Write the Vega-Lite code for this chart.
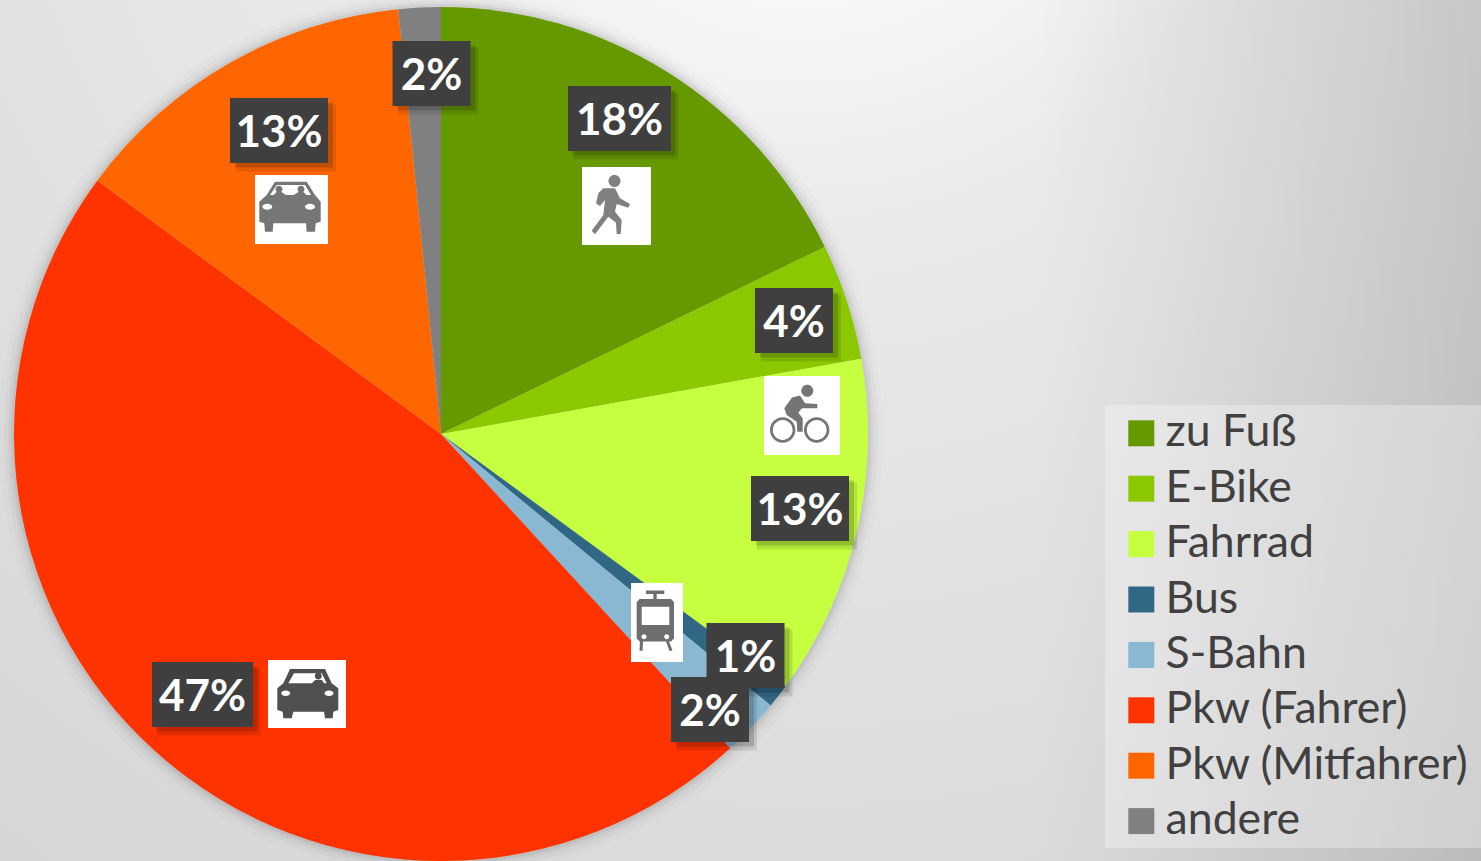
{
"$schema":"https://vega.github.io/schema/vega-lite/v6.json",
"width":1481,"height":861,"padding":0,"autosize":{"type":"none"},
"background":"#e0e0e0",
"config":{"view":{"stroke":null},"font":"Lato"},
"data":{"values":[
{"mode":"zu Fuß","share":17.8,"label":"18%","rank":1},
{"mode":"E-Bike","share":4.4,"label":"4%","rank":2},
{"mode":"Fahrrad","share":12.9,"label":"13%","rank":3},
{"mode":"Bus","share":0.9,"label":"1%","rank":4},
{"mode":"S-Bahn","share":2.2,"label":"2%","rank":5},
{"mode":"Pkw (Fahrer)","share":47.0,"label":"47%","rank":6},
{"mode":"Pkw (Mitfahrer)","share":13.3,"label":"13%","rank":7},
{"mode":"andere","share":1.6,"label":"2%","rank":8}
]},
"resolve":{"scale":{"x":"independent","y":"independent","shape":"independent","color":"independent"}},
"layer":[
{"data":{"values":[{"panel":"background"}]},"mark":{"type":"rect","color":{"gradient":"radial","x1":0.54,"y1":0.03,"r1":0,"x2":0.54,"y2":0.03,"r2":1.1,"stops":[{"offset":0,"color":"#ffffff"},{"offset":0.08,"color":"#ffffff"},{"offset":0.3,"color":"#eaeaea"},{"offset":0.5,"color":"#e2e2e2"},{"offset":1,"color":"#d0d0d0"}]}},"encoding":{}},
{"data":{"values":[{"panel":"edge"}]},"mark":{"type":"rect","color":{"gradient":"linear","x1":0,"y1":0,"x2":1,"y2":0,"stops":[{"offset":0,"color":"rgba(0,0,0,0)"},{"offset":0.7,"color":"rgba(0,0,0,0)"},{"offset":1,"color":"rgba(0,0,0,0.13)"}]}},"encoding":{}},
{"encoding":{
  "x":{"datum":441,"type":"quantitative","scale":{"domain":[0,1481],"range":[0,1481],"nice":false,"zero":false},"axis":null},
  "y":{"datum":434,"type":"quantitative","scale":{"domain":[0,861],"range":[0,861],"nice":false,"zero":false},"axis":null}
 },
 "layer":[
 {"data":{"values":[{"panel":"legend"}]},"mark":{"type":"rect","color":"#ffffff","opacity":0.3},
  "encoding":{
   "x":{"datum":1105,"type":"quantitative","scale":{"domain":[0,1481],"range":[0,1481],"nice":false,"zero":false},"axis":null},
   "x2":{"datum":1481},
   "y":{"datum":405,"type":"quantitative","scale":{"domain":[0,861],"range":[0,861],"nice":false,"zero":false},"axis":null},
   "y2":{"datum":848}}},
 {"mark":{"type":"arc","radius":442,"color":"#000000","opacity":0.012},
  "encoding":{"theta":{"field":"share","type":"quantitative","stack":true},"order":{"field":"rank","type":"ordinal"}}},
 {"mark":{"type":"arc","radius":437,"color":"#000000","opacity":0.022},
  "encoding":{"theta":{"field":"share","type":"quantitative","stack":true},"order":{"field":"rank","type":"ordinal"}}},
 {"mark":{"type":"arc","radius":433,"color":"#000000","opacity":0.035},
  "encoding":{"theta":{"field":"share","type":"quantitative","stack":true},"order":{"field":"rank","type":"ordinal"}}},
 {"mark":{"type":"arc","radius":430,"color":"#000000","opacity":0.05},
  "encoding":{"theta":{"field":"share","type":"quantitative","stack":true},"order":{"field":"rank","type":"ordinal"}}},
 {"mark":{"type":"arc","radius":427,"stroke":null},
 "encoding":{
  "theta":{"field":"share","type":"quantitative","stack":true},
  "order":{"field":"rank","type":"ordinal"},
  "color":{"field":"mode","type":"nominal","sort":null,
   "scale":{"domain":["zu Fuß","E-Bike","Fahrrad","Bus","S-Bahn","Pkw (Fahrer)","Pkw (Mitfahrer)","andere"],"range":["#669900","#8cc800","#c5ff3f","#306785","#8ab8d3","#ff3300","#ff6600","#808080"]},
   "legend":{"title":null,"orient":"none","legendX":1105,"legendY":406,"padding":5,"strokeColor":null,"symbolType":"square","symbolSize":676,"symbolStrokeWidth":0,"symbolOffset":9,"symbolOpacity":1,"labelFont":"Lato","labelFontSize":44.6,"labelColor":"#404040","labelOffset":2,"labelLimit":400,"rowPadding":10.4,"columnPadding":0}}
 }}
 ]},
{"encoding":{
  "x":{"field":"share","type":"quantitative","axis":null,"scale":{"nice":false,"zero":false,"domain":[0.9,1.6,2.2,4.4,12.9,13.3,17.8,47.0],"range":[745.5,431.5,710,794,800,279,619.5,202.5]}},
  "y":{"field":"share","type":"quantitative","axis":null,"scale":{"nice":false,"zero":false,"domain":[0.9,1.6,2.2,4.4,12.9,13.3,17.8,47.0],"range":[655.5,73.5,709.5,320.5,508.5,130.5,118.5,694.5]}}
 },
 "resolve":{"scale":{"shape":"independent"}},
 "layer":[
 {"mark":{"type":"point","filled":true,"size":4,"color":"#000000","opacity":0.1},
  "encoding":{"shape":{"field":"label","type":"nominal","legend":null,"scale":{"domain":["18%","47%","13%","4%","2%","1%"],"range":[
   "M-46,-26L59,-26L59,41L-46,41Z","M-45,-26L58,-26L58,41L-45,41Z","M-43,-26L57,-26L57,41L-43,41Z","M-33,-26L47,-26L47,41L-33,41Z","M-33,-26L47,-26L47,41L-33,41Z","M-33,-26L47,-26L47,41L-33,41Z"]}}}},
 {"mark":{"type":"point","filled":true,"size":4,"color":"#000000","opacity":0.16},
  "encoding":{"shape":{"field":"label","type":"nominal","legend":null,"scale":{"domain":["18%","47%","13%","4%","2%","1%"],"range":[
   "M-47,-28L56,-28L56,37L-47,37Z","M-46,-28L55,-28L55,37L-46,37Z","M-44,-28L54,-28L54,37L-44,37Z","M-34,-28L44,-28L44,37L-34,37Z","M-34,-28L44,-28L44,37L-34,37Z","M-34,-28L44,-28L44,37L-34,37Z"]}}}},
 {"mark":{"type":"point","filled":true,"size":4,"color":"#3f3f3f","opacity":1},
  "encoding":{"shape":{"field":"label","type":"nominal","legend":null,"scale":{"domain":["18%","47%","13%","4%","2%","1%"],"range":[
   "M-51.5,-32.5L51.5,-32.5L51.5,32.5L-51.5,32.5Z","M-50.5,-32.5L50.5,-32.5L50.5,32.5L-50.5,32.5Z","M-49,-32.5L49,-32.5L49,32.5L-49,32.5Z","M-39,-32.5L39,-32.5L39,32.5L-39,32.5Z","M-39,-32.5L39,-32.5L39,32.5L-39,32.5Z","M-39,-32.5L39,-32.5L39,32.5L-39,32.5Z"]}}}},
 {"mark":{"type":"text","font":"Lato","fontWeight":"bold","fontSize":44,"color":"#ffffff","baseline":"middle","align":"center","yOffset":3},
  "encoding":{"text":{"field":"label","type":"nominal"}}}
 ]},
{"transform":[{"filter":{"field":"mode","oneOf":["zu Fuß","Fahrrad","S-Bahn","Pkw (Fahrer)","Pkw (Mitfahrer)"]}}],
 "encoding":{
  "x":{"field":"share","type":"quantitative","axis":null,"scale":{"nice":false,"zero":false,"domain":[2.2,12.9,13.3,17.8,47.0],"range":[657,802,291.5,616.5,307]}},
  "y":{"field":"share","type":"quantitative","axis":null,"scale":{"nice":false,"zero":false,"domain":[2.2,12.9,13.3,17.8,47.0],"range":[622.5,415.5,209.5,206,694]}}
 },
 "resolve":{"scale":{"shape":"independent"}},
 "layer":[
 {"mark":{"type":"point","filled":true,"size":4,"color":"#ffffff","opacity":1},
  "encoding":{"shape":{"field":"mode","type":"nominal","legend":null,"scale":{"domain":["S-Bahn","Fahrrad","Pkw (Mitfahrer)","zu Fuß","Pkw (Fahrer)"],"range":[
   "M-26,-39.5L26,-39.5L26,39.5L-26,39.5Z","M-38,-39.5L38,-39.5L38,39.5L-38,39.5Z","M-36.5,-34.5L36.5,-34.5L36.5,34.5L-36.5,34.5Z","M-34.5,-39L34.5,-39L34.5,39L-34.5,39Z","M-39,-34L39,-34L39,34L-39,34Z"]}}}},
 {"mark":{"type":"point","filled":true,"size":4,"opacity":1},
  "encoding":{
   "color":{"field":"mode","type":"nominal","legend":null,"scale":{"domain":["S-Bahn","Fahrrad","Pkw (Mitfahrer)","zu Fuß","Pkw (Fahrer)"],"range":["#6e6e6e","#757575","#767676","#808080","#505050"]}},
   "shape":{"field":"mode","type":"nominal","legend":null,"scale":{"domain":["S-Bahn","Fahrrad","Pkw (Mitfahrer)","zu Fuß","Pkw (Fahrer)"],"range":[
   "M-11,-32L7.3,-32L7.3,-28.5L-0.3,-28.5L-0.3,-23.5L14,-23.5L17,-20.5L17,16L14,19L12,19L15.5,28L12.5,28.5L9,19L-14,19L-14.5,28.5L-17.5,28L-17,19L-17.3,19L-20.3,16L-20.3,-20.5L-17.3,-23.5L-3.7,-23.5L-3.7,-28.5L-11,-28.5Z M-15.3,-15.8L-15.3,2.5L12.3,2.5L12.3,-15.8Z M-15.5,14.2A2.5,2.5 0 1 0 -10.5,14.2A2.5,2.5 0 1 0 -15.5,14.2Z M7.2,14.2A2.5,2.5 0 1 0 12.2,14.2A2.5,2.5 0 1 0 7.2,14.2Z",
   "M-0.7,-24.8A6,6 0 1 1 11.3,-24.8A6,6 0 1 1 -0.7,-24.8Z M-10,-18L-2,-20L3,-12.2L15.3,-11.5L15.3,-7.2L0,-7.2L-3.7,-2.8L0.7,2.8L0.7,16.2L-4.7,16.2L-5.3,6.2L-15.3,-0.5L-17.7,-7.2Z M-32,14.5A12.7,12.7 0 1 1 -6.6,14.5A12.7,12.7 0 1 1 -32,14.5Z M-29.2,14.5A9.9,9.9 0 1 0 -9.4,14.5A9.9,9.9 0 1 0 -29.2,14.5Z M2,14.5A12.7,12.7 0 1 1 27.4,14.5A12.7,12.7 0 1 1 2,14.5Z M4.8,14.5A9.9,9.9 0 1 0 24.6,14.5A9.9,9.9 0 1 0 4.8,14.5Z",
   "M-16.5,-27.8L15.2,-27.8L23.5,-14.5L29.2,-7.8L29.2,12.2L24.2,13.8L23.5,22.2L15.2,22.2L14.5,13.8L-18.2,13.8L-18.8,22.2L-26.5,22.2L-27.2,13.8L-32.2,12.2L-32.2,-7.8L-24.8,-14.5Z M-21.5,-14.5L19.5,-14.5L13.5,-24.5L-14.8,-24.5Z M-16,-20.2A3.5,3.5 0 1 1 -9,-20.2A3.5,3.5 0 1 1 -16,-20.2Z M6,-20.2A3.5,3.5 0 1 1 13,-20.2A3.5,3.5 0 1 1 6,-20.2Z M-18,-14.5L-15,-17.5L-10,-17.5L-5.5,-14.5Z M2,-14.5L7,-17.5L12,-17.5L15,-14.5Z M-29.2,-2.8A5,3 0 1 0 -19.2,-2.8A5,3 0 1 0 -29.2,-2.8Z M13.5,-2.8A5,3 0 1 0 23.5,-2.8A5,3 0 1 0 13.5,-2.8Z",
   "M-8,-25A6,6 0 1 1 4,-25A6,6 0 1 1 -8,-25Z M-13.2,-17.7L-1.5,-17.7L3.5,-7.7L13.5,-2L11.8,1.7L0.2,-2L-1.5,5.7L5.2,14L4.2,28L0.2,28L-0.5,16.7L-8.2,10.7L-21.5,28.3L-24.8,24.7L-13.2,9L-11.5,-6L-16.5,0L-20.5,-2.7L-18.2,-12.7Z",
   "M-17,-25L18,-25L24.7,-10.7L31.3,-5.7L31.3,16L26.3,17.7L25.7,24.3L18,24.3L17,17.7L-13.7,17.7L-15.3,24.3L-23.7,24.3L-24.3,17.7L-29.7,16L-29.7,-5.7L-23.7,-10.7Z M-18.7,-10.7L19.7,-10.7L14.7,-20.7L-13,-20.7Z M7.8,-18A3.5,3.5 0 1 1 14.8,-18A3.5,3.5 0 1 1 7.8,-18Z M5,-10.7L8,-14L15,-14L17,-10.7Z M-25.8,-0.7A4.5,2.7 0 1 0 -16.8,-0.7A4.5,2.7 0 1 0 -25.8,-0.7Z M17.5,-0.7A4.5,2.7 0 1 0 26.5,-0.7A4.5,2.7 0 1 0 17.5,-0.7Z"
   ]}}}}
 ]}
]}
